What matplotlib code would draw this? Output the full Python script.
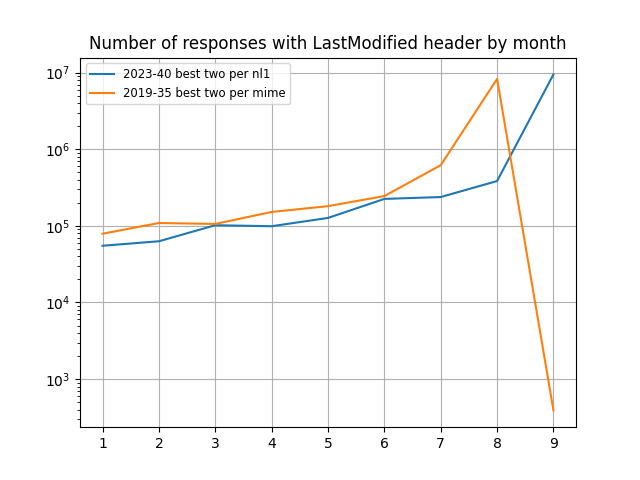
import matplotlib
matplotlib.use("Agg")
import matplotlib.pyplot as plt

months = [1, 2, 3, 4, 5, 6, 7, 8, 9]
nl1_counts = [55000, 63000, 102000, 99000, 127000, 225000, 238000, 385000, 9500000]
mime_counts = [79000, 109000, 106000, 152000, 181000, 245000, 620000, 8300000, 390]

fig, ax = plt.subplots(figsize=(6.4, 4.8), dpi=100)
ax.plot(months, nl1_counts, label="2023-40 best two per nl1")
ax.plot(months, mime_counts, label="2019-35 best two per mime")
ax.set_yscale("log")
ax.set_xticks(months)
ax.grid(True)
ax.legend(loc="upper left", fontsize="small")
ax.set_title("Number of responses with LastModified header by month")
fig.savefig("out.png")
